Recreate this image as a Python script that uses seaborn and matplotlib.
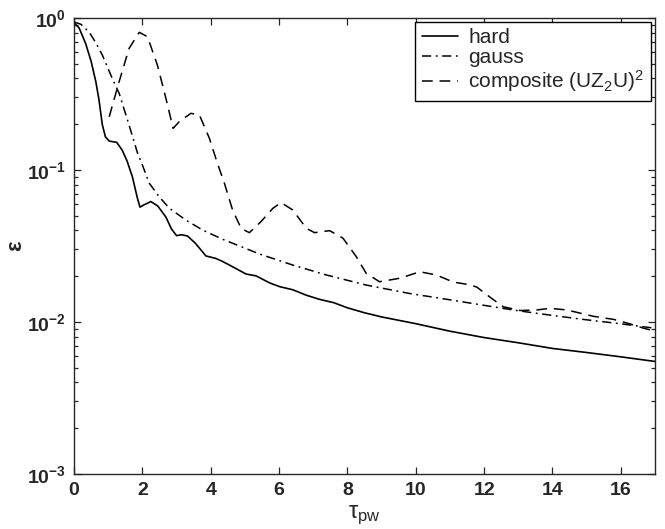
import numpy as np
import pandas as pd
import matplotlib
matplotlib.use("Agg")
import matplotlib.pyplot as plt
import seaborn as sns
from matplotlib.ticker import LogLocator, NullFormatter, FixedLocator

# ---- data ----
hard_x = [0.0, 0.15, 0.34, 0.5, 0.64, 0.73, 0.83, 0.92, 1.03, 1.25, 1.41, 1.55, 1.71,
          1.85, 1.93, 2.05, 2.25, 2.45, 2.69, 2.85, 3.0, 3.15, 3.32, 3.55, 3.86, 4.15,
          4.35, 4.64, 5.03, 5.33, 5.72, 6.01, 6.4, 6.8, 7.18, 7.6, 8.0, 8.5, 9.0, 10.0,
          11.0, 12.0, 13.0, 14.0, 15.0, 16.0, 17.0]
hard_y = [0.93, 0.86, 0.68, 0.52, 0.38, 0.29, 0.198, 0.165, 0.155, 0.152, 0.135, 0.115,
          0.090, 0.066, 0.057, 0.059, 0.062, 0.058, 0.049, 0.041, 0.037, 0.0375, 0.0368,
          0.033, 0.0272, 0.0262, 0.025, 0.0231, 0.0207, 0.0201, 0.0181, 0.0171, 0.0163,
          0.0150, 0.0141, 0.0134, 0.0124, 0.0115, 0.0108, 0.00975, 0.0087, 0.0079,
          0.0073, 0.0067, 0.0063, 0.0059, 0.0055]

gauss_x = [0.0, 0.2, 0.44, 0.65, 0.83, 1.12, 1.32, 1.61, 1.86, 2.0, 2.2, 2.49, 2.79,
           3.27, 3.76, 4.35, 4.94, 5.43, 6.4, 7.38, 8.55, 9.82, 11.0, 11.97, 12.95,
           13.93, 14.9, 15.89, 17.0]
gauss_y = [0.94, 0.91, 0.81, 0.68, 0.57, 0.40, 0.32, 0.198, 0.129, 0.108, 0.082, 0.0668,
           0.056, 0.0469, 0.0403, 0.035, 0.031, 0.028, 0.0237, 0.0204, 0.0175, 0.0154,
           0.0140, 0.0129, 0.0119, 0.0111, 0.0104, 0.0098, 0.0091]

comp_x = [1.03, 1.32, 1.61, 1.91, 2.15, 2.44, 2.69, 2.9, 3.08, 3.42, 3.67, 3.96, 4.2,
          4.4, 4.64, 4.89, 5.13, 5.47, 5.82, 6.06, 6.4, 6.8, 7.04, 7.48, 7.87, 8.26,
          8.55, 8.94, 9.53, 10.12, 10.6, 11.1, 11.5, 11.78, 12.22, 12.56, 13.05, 13.54,
          13.93, 14.42, 15.2, 15.79, 16.28, 16.67, 17.0]
comp_y = [0.224, 0.381, 0.63, 0.805, 0.753, 0.49, 0.296, 0.188, 0.208, 0.236, 0.23,
          0.162, 0.11, 0.082, 0.0546, 0.0413, 0.0387, 0.0457, 0.056, 0.061, 0.0546,
          0.0413, 0.0387, 0.0399, 0.0356, 0.0269, 0.0209, 0.0184, 0.0194, 0.0214,
          0.0204, 0.0183, 0.0177, 0.0170, 0.0143, 0.0126, 0.0119, 0.0120, 0.0123,
          0.0120, 0.0109, 0.0104, 0.0097, 0.0091, 0.0087]

labels = ["hard", "gauss", "composite (UZ$_2$U)$^2$"]
x_ticks = [0, 2, 4, 6, 8, 10, 12, 14, 16]

# ---- style ----
sns.set_style("ticks")
plt.rcParams["font.family"] = ["Liberation Sans", "DejaVu Sans"]
plt.rcParams["mathtext.default"] = "regular"
plt.rcParams["axes.linewidth"] = 1.0

fig = plt.figure(figsize=(6.65, 5.29), dpi=100)
ax = fig.add_axes([74 / 665, 1 - 474 / 529, (655 - 74) / 665, (474 - 18) / 529])

sns.lineplot(x=hard_x, y=hard_y, ax=ax, color="black", lw=1.2, linestyle="-",
             label=labels[0], sort=False, estimator=None)
sns.lineplot(x=gauss_x, y=gauss_y, ax=ax, color="black", lw=1.1,
             linestyle=(0, (6, 3, 1.2, 3)), label=labels[1], sort=False, estimator=None)
sns.lineplot(x=comp_x, y=comp_y, ax=ax, color="black", lw=1.1,
             linestyle=(0, (7, 4.5)), label=labels[2], sort=False, estimator=None)

ax.set_yscale("log")
ax.set_xlim(0, 17)
ax.set_ylim(1e-3, 1e0)
ax.xaxis.set_major_locator(FixedLocator(x_ticks))
ax.yaxis.set_major_locator(LogLocator(base=10, numticks=10))
ax.yaxis.set_minor_locator(LogLocator(base=10, subs=np.arange(2, 10), numticks=20))
ax.yaxis.set_minor_formatter(NullFormatter())

ax.tick_params(which="both", direction="in", top=True, right=True, width=0.9)
ax.tick_params(which="major", length=5, labelsize=14, pad=6)
ax.tick_params(which="minor", length=3)
for lab in ax.get_xticklabels() + ax.get_yticklabels():
    lab.set_fontweight("bold")

ax.set_xlabel(r"$\tau_{pw}$", fontsize=17)
ax.xaxis.set_label_coords(0.5, -0.065)
ax.set_ylabel("ε", fontsize=16, fontweight="bold")
ax.yaxis.set_label_coords(-0.082, 0.5)

leg = ax.legend(loc="upper right", fontsize=15, frameon=True, fancybox=False,
                framealpha=1, edgecolor="black", handlelength=1.75, borderaxespad=0.2,
                labelspacing=0.05, borderpad=0.3, handletextpad=0.5)
leg.get_frame().set_linewidth(1.0)

fig.savefig("out.png", dpi=100)
